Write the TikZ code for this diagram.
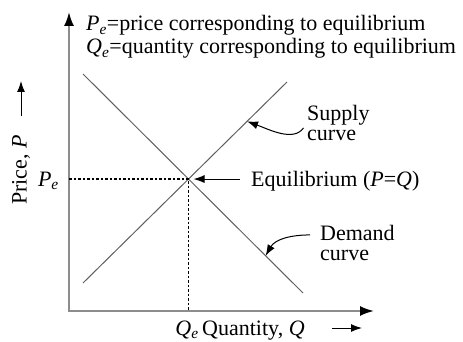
\documentclass[tikz,border=0pt]{standalone}
\usepackage{fontspec}
\setmainfont{Liberation Serif}
\usepackage{tikz}
\usetikzlibrary{arrows.meta,positioning,calc}
\definecolor{axisgray}{RGB}{140,140,140}
\definecolor{linegray}{RGB}{95,95,95}
\newcommand{\eqsym}[2]{\textit{#1}\textsubscript{\textit{#2}}}

\begin{document}
\begin{tikzpicture}[x=1pt,y=-1pt,
  every node/.style={font=\fontsize{22}{20}\selectfont,inner sep=0pt,align=left},
  axis/.style={draw=axisgray,line width=2pt,{Latex[black,length=14pt,width=10pt]}-{Latex[black,length=14pt,width=10pt]}},
  market/.style={draw=linegray,line width=1pt},
  guide/.style={draw=black,line width=1.4pt,dash pattern=on 2.5pt off 2pt},
  pointer/.style={draw=black,line width=1pt,-{Latex[length=11pt,width=8pt]}}]
  \useasboundingbox (0,0) rectangle (463,342);
  \coordinate (O) at (69,311);
  \coordinate (ytop) at (69,12);
  \coordinate (xend) at (374,311);
  \draw[axis] (ytop) -- (O) -- (xend);
  \coordinate (d1) at (83,74);
  \coordinate (d2) at (303,293);
  \coordinate (s1) at (83,283);
  \coordinate (s2) at (287,82);
  \draw[market] (d1) -- (d2);
  \draw[market] (s1) -- (s2);
  \coordinate (E) at (intersection of d1--d2 and s1--s2);
  \draw[guide] (O |- E) -- (E) -- (E |- O);
  \node[anchor=base west] (pedef) at (86,31) {\eqsym{P}{e}=price corresponding to equilibrium};
  \node[anchor=base west] (qedef) at (86,54) {\eqsym{Q}{e}=quantity corresponding to equilibrium};
  \node[anchor=base east] (pe) at (59,186) {\eqsym{P}{e}};
  \node[anchor=base west] (eqlab) at (251,186) {Equilibrium (\textit{P}=\textit{Q})};
  \draw[pointer,shorten <=11pt,shorten >=5pt] (eqlab.west |- E) -- (E);
  % labels on the two curves
  \node[anchor=north west] (suplab) at (307,105) {Supply\\curve};
  \coordinate (sa) at ($(s1)!0.804!(s2)$);
  \draw[pointer,shorten <=6pt] (suplab.west) to[out=-125,in=-20] (sa);
  \node[anchor=north west] (demlab) at (320,225) {Demand\\curve};
  \coordinate (da) at ($(d1)!0.83!(d2)$);
  \draw[pointer] ([xshift=-10pt,yshift=8pt]demlab.west) to[out=180,in=60] (da);
  % axis labels
  \node[rotate=90] (plab) at (21,170) {Price, \textit{P}};
  \coordinate (pa1) at (21,116);
  \coordinate (pa2) at (21,81);
  \draw[pointer] (pa1) -- (pa2);
  \node[anchor=base] (qe) at (187,335) {\eqsym{Q}{e}};
  \node[anchor=base west] (qlab) at (202,335) {Quantity, \textit{Q}};
  \coordinate (qa1) at (332,328);
  \coordinate (qa2) at (362,328);
  \draw[pointer] (qa1) -- (qa2);
\end{tikzpicture}
\end{document}
